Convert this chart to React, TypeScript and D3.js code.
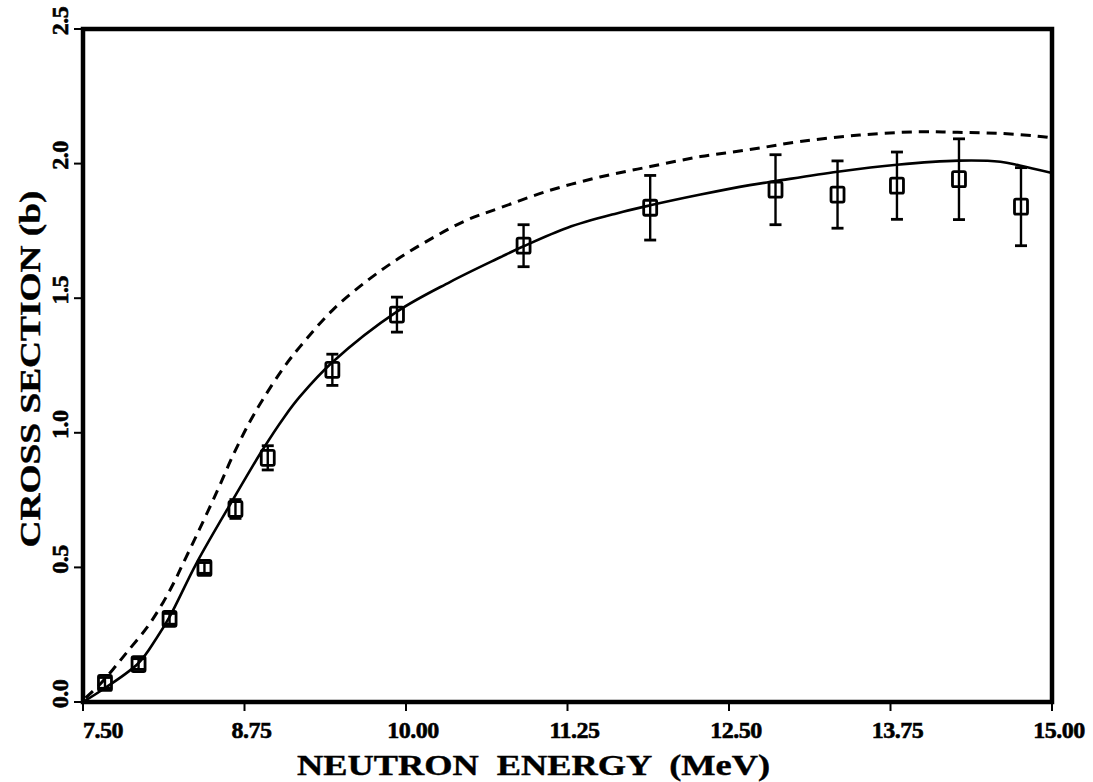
import React from "react";
import * as d3 from "d3";

const xTicks = [7.5, 8.75, 10.0, 11.25, 12.5, 13.75, 15.0];
const xTickLabels = ["7.50", "8.75", "10.00", "11.25", "12.50", "13.75", "15.00"];
const yTicks = [0, 0.5, 1.0, 1.5, 2.0, 2.5];
const yTickLabels = ["0.0", "0.5", "1.0", "1.5", "2.0", "2.5"];

const dataE = [7.67, 7.93, 8.17, 8.44, 8.68, 8.93, 9.43, 9.93, 10.91, 11.89, 12.86, 13.34, 13.8, 14.28, 14.76];
const dataS = [0.071, 0.141, 0.309, 0.498, 0.717, 0.907, 1.234, 1.439, 1.695, 1.836, 1.903, 1.885, 1.918, 1.942, 1.84];
const dataErr = [0.02, 0.02, 0.02, 0.02, 0.035, 0.045, 0.058, 0.065, 0.078, 0.12, 0.13, 0.125, 0.125, 0.15, 0.145];

const solidE = [7.5, 7.67, 7.93, 8.07, 8.17, 8.38, 8.66, 8.89, 9.06, 9.18, 9.43, 9.93, 10.34, 10.73, 10.91, 11.25, 11.63, 11.89, 12.28, 12.66, 12.86, 13.34, 13.8, 14.28, 14.6, 14.75, 15.0];
const solidS = [0.0, 0.052, 0.145, 0.238, 0.316, 0.517, 0.751, 0.937, 1.06, 1.135, 1.262, 1.45, 1.56, 1.652, 1.693, 1.762, 1.815, 1.845, 1.885, 1.92, 1.935, 1.97, 1.996, 2.011, 2.007, 1.993, 1.965];

const dashE = [7.52, 7.63, 7.73, 7.84, 8.0, 8.12, 8.2, 8.27, 8.4, 8.54, 8.66, 8.79, 8.9, 9.05, 9.18, 9.43, 9.7, 9.95, 10.21, 10.47, 10.73, 11.11, 11.5, 11.89, 12.28, 12.66, 13.05, 13.51, 13.96, 14.27, 14.6, 14.93, 15.0];
const dashS = [0.015, 0.065, 0.12, 0.185, 0.28, 0.37, 0.44, 0.51, 0.64, 0.785, 0.915, 1.04, 1.13, 1.24, 1.32, 1.455, 1.565, 1.65, 1.725, 1.79, 1.836, 1.9, 1.95, 1.989, 2.026, 2.052, 2.082, 2.106, 2.118, 2.116, 2.112, 2.1, 2.095];

const W = 1093;
const H = 782;
const L = 83, R = 1052, T = 29, B = 702;
const FONT = "'Liberation Serif', 'DejaVu Serif', serif";

export default function App() {
  const x = d3.scaleLinear().domain([7.5, 15]).range([L, R]);
  const y = d3.scaleLinear().domain([0, 2.5]).range([B, T]);

  const line = d3
    .line<[number, number]>()
    .x((d) => x(d[0]))
    .y((d) => y(d[1]))
    .curve(d3.curveCatmullRom.alpha(0.5));

  const solidPts = solidE.map((e, i) => [e, solidS[i]] as [number, number]);
  const dashPts = dashE.map((e, i) => [e, dashS[i]] as [number, number]);

  const bw = 13, bh = 15, cap = 6;

  return (
    <svg width={W} height={H} style={{ position: "absolute", left: 0, top: 0, background: "#fff" }}>
      <rect x={0} y={0} width={W} height={H} fill="#fff" />
      <path d={line(dashPts) || ""} fill="none" stroke="#000" strokeWidth={3} strokeDasharray="10 7" />
      <path d={line(solidPts) || ""} fill="none" stroke="#000" strokeWidth={2.6} />
      {dataE.map((e, i) => {
        const cx = x(e);
        const cy = y(dataS[i]);
        const y1 = y(dataS[i] + dataErr[i]);
        const y2 = y(dataS[i] - dataErr[i]);
        return (
          <g key={i}>
            <line x1={cx} x2={cx} y1={y1} y2={y2} stroke="#000" strokeWidth={2.4} />
            <line x1={cx - cap} x2={cx + cap} y1={y1} y2={y1} stroke="#000" strokeWidth={2.8} />
            <line x1={cx - cap} x2={cx + cap} y1={y2} y2={y2} stroke="#000" strokeWidth={2.8} />
            <rect x={cx - bw / 2} y={cy - bh / 2} width={bw} height={bh} rx={1.5} fill="none" stroke="#000" strokeWidth={2.8} />
          </g>
        );
      })}
      <rect x={L} y={T} width={R - L} height={B - T} fill="none" stroke="#000" strokeWidth={4.5} />
      {xTicks.map((t, i) => (
        <g key={"x" + i}>
          <line x1={x(t)} x2={x(t)} y1={B} y2={B + 9} stroke="#000" strokeWidth={2} />
          <text
            x={i === 0 ? x(t) : x(t) + 7}
            y={738}
            textAnchor={i === 0 ? "start" : "middle"}
            fontFamily={FONT}
            fontWeight="bold"
            fontSize={24}
            letterSpacing={-0.5}
            stroke="#000"
            strokeWidth={0.6}
          >
            {xTickLabels[i]}
          </text>
        </g>
      ))}
      {yTicks.map((t, i) => (
        <g key={"y" + i}>
          <line x1={L - 9} x2={L} y1={y(t)} y2={y(t)} stroke="#000" strokeWidth={2} />
          <text
            transform={`translate(68,${y(t) - 8}) rotate(-90)`}
            textAnchor="middle"
            fontFamily={FONT}
            fontWeight="bold"
            fontSize={24}
            letterSpacing={-0.5}
            stroke="#000"
            strokeWidth={0.6}
          >
            {yTickLabels[i]}
          </text>
        </g>
      ))}
      <text
        x={(297 + 770) / 2}
        y={775}
        textAnchor="middle"
        fontFamily={FONT}
        fontWeight="bold"
        fontSize={29}
        textLength={473}
        lengthAdjust="spacingAndGlyphs"
        stroke="#000"
        strokeWidth={0.4}
        style={{ whiteSpace: "pre" }}
      >
        {"NEUTRON  ENERGY  (MeV)"}
      </text>
      <text
        transform={`translate(40,369) rotate(-90)`}
        textAnchor="middle"
        fontFamily={FONT}
        fontWeight="bold"
        fontSize={29}
        textLength={357}
        lengthAdjust="spacingAndGlyphs"
        stroke="#000"
        strokeWidth={0.4}
        style={{ whiteSpace: "pre" }}
      >
        {"CROSS SECTION (b)"}
      </text>
    </svg>
  );
}
